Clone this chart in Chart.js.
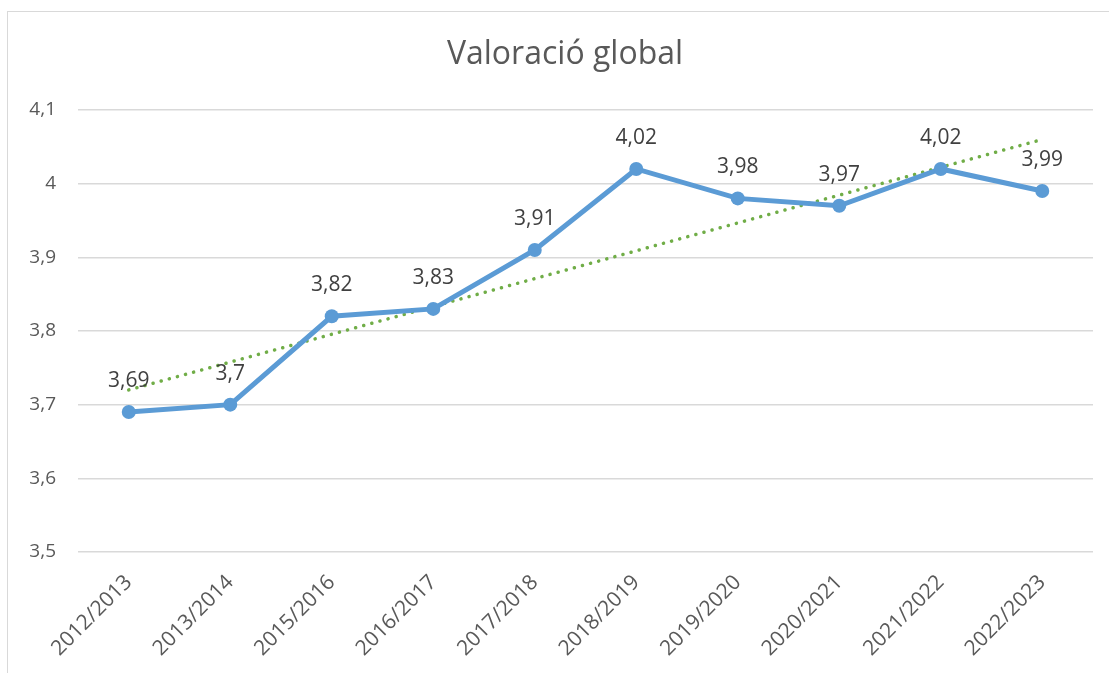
<!DOCTYPE html>
<html>
<head>
<meta charset="utf-8">
<script src="https://cdn.jsdelivr.net/npm/chart.js@4"></script>
<style>
  html, body { margin: 0; padding: 0; background: #fff; }
  #wrap { position: relative; width: 1109px; height: 673px; overflow: hidden; }
  #frame { position: absolute; left: 7px; top: 11px; width: 1200px; height: 800px; border: 1px solid #d9d9d9; }
  canvas { position: absolute; left: 0; top: 0; }
</style>
</head>
<body>
<div id="wrap">
  <div id="frame"></div>
  <canvas id="chart" width="1109" height="673"></canvas>
</div>
<script>
// Course years and the overall rating
const courses = ['2012/2013', '2013/2014', '2015/2016', '2016/2017', '2017/2018',
                 '2018/2019', '2019/2020', '2020/2021', '2021/2022', '2022/2023'];
const ratings = [3.69, 3.7, 3.82, 3.83, 3.91, 4.02, 3.98, 3.97, 4.02, 3.99];
// trend line (start and end only)
const trendStart = 3.72;
const trendEnd = 4.06;
const trend = courses.map((c, i) => i === 0 ? trendStart : (i === courses.length - 1 ? trendEnd : null));
const chartTitle = 'Valoració global';

const fmt = v => String(v).replace('.', ',');

// draws the title and the values above the points
const valueLabels = {
    id: 'valueLabels',
    afterDatasetsDraw(chart) {
        const ctx = chart.ctx;
        const meta = chart.getDatasetMeta(0);
        ctx.save();
        ctx.textAlign = 'center';
        ctx.textBaseline = 'middle';
        ctx.font = '32px "Open Sans"';
        ctx.fillStyle = '#595959';
        ctx.fillText(chartTitle, 565, 55);
        ctx.font = '21px "Open Sans"';
        ctx.fillStyle = '#404040';
        meta.data.forEach((pt, i) => {
            ctx.fillText(fmt(ratings[i]), pt.x, pt.y - 31);
        });
        ctx.restore();
    }
};

new Chart(document.getElementById('chart'), {
    type: 'line',
    data: {
        labels: courses,
        datasets: [{
            label: chartTitle,
            data: ratings,
            borderColor: '#5B9BD5',
            backgroundColor: '#5B9BD5',
            borderWidth: 5,
            pointRadius: 7,
            pointHoverRadius: 7,
            pointBorderWidth: 0,
            tension: 0,
            order: 1
        }, {
            label: 'trend',
            data: trend,
            spanGaps: true,
            borderColor: '#70AD47',
            borderWidth: 3.5,
            borderDash: [0.1, 8.3],
            borderCapStyle: 'round',
            pointRadius: 0,
            fill: false,
            order: 2
        }]
    },
    options: {
        responsive: false,
        animation: false,
        layout: { padding: { left: 0, right: 16, top: 110, bottom: 0 } },
        plugins: {
            legend: { display: false },
            tooltip: { enabled: false },
            title: { display: false }
        },
        scales: {
            x: {
                offset: true,
                grid: { display: false },
                border: { display: false },
                ticks: {
                    color: '#595959',
                    font: { family: 'Open Sans', size: 21 },
                    minRotation: 45,
                    maxRotation: 45,
                    padding: 10
                },
                afterFit(scale) { scale.height = 121; }
            },
            y: {
                min: 3.5,
                max: 4.1,
                grid: { color: '#d9d9d9', lineWidth: 1.5, drawTicks: false },
                border: { display: false },
                ticks: {
                    stepSize: 0.1,
                    color: '#595959',
                    font: { family: 'Open Sans', size: 19 },
                    padding: 22,
                    callback: v => fmt(Math.round(v * 10) / 10)
                },
                afterFit(scale) { scale.width = 78; }
            }
        }
    },
    plugins: [valueLabels]
});
</script>
</body>
</html>
